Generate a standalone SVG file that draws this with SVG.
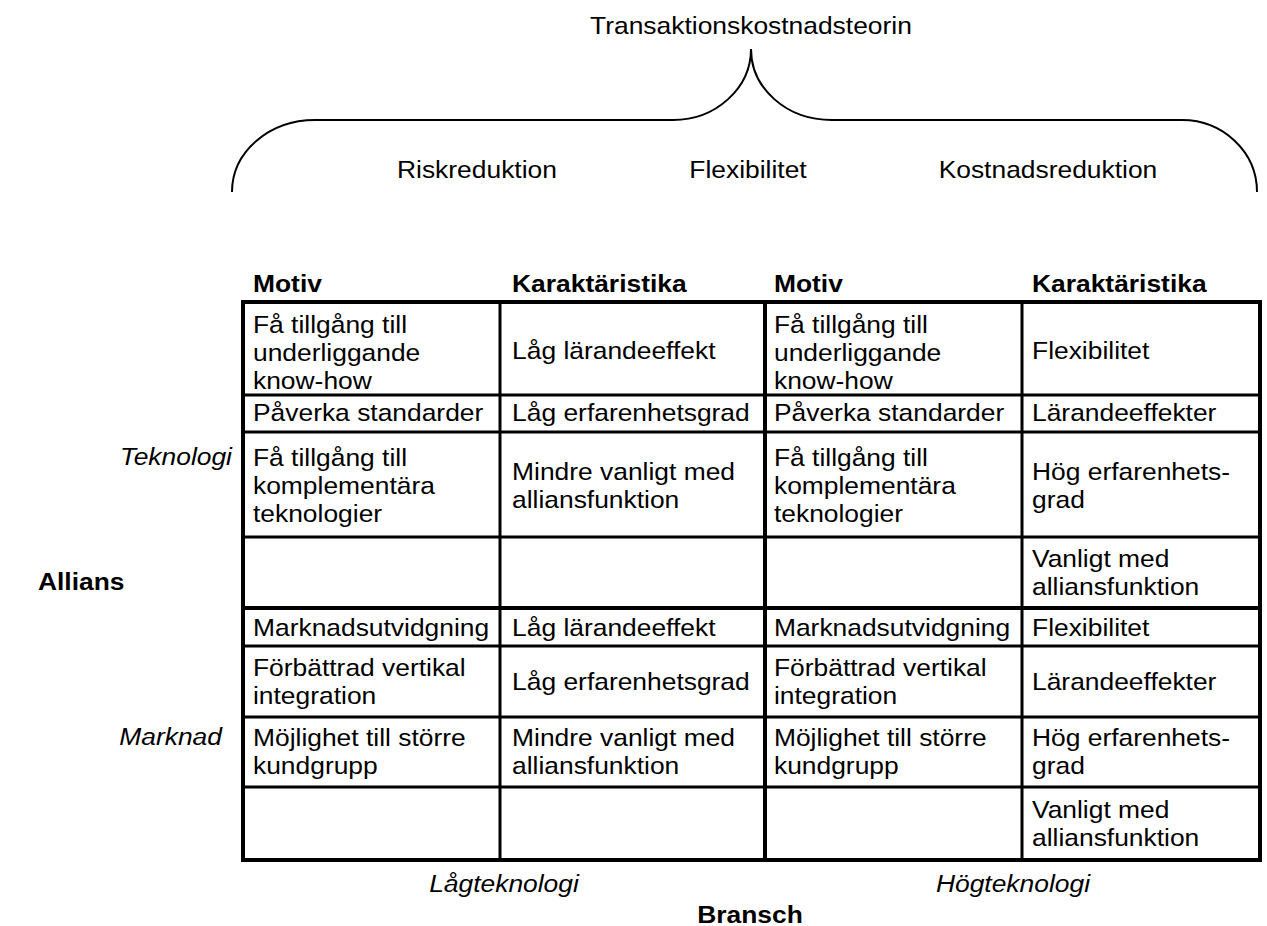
<svg xmlns="http://www.w3.org/2000/svg" width="1267" height="926" viewBox="0 0 1267 926">
<style>
text{font-family:"Liberation Sans",Arial,sans-serif;font-size:24px;fill:#000}
.b{font-weight:bold}
.i{font-style:italic}
.m{text-anchor:middle}
.e{text-anchor:end}
.ln{stroke:#000;fill:none}
.o{stroke-width:4}
.n{stroke-width:3}
</style>
<rect width="1267" height="926" fill="#fff"/>
<g id="brace">
<path class="ln" stroke-width="2" d="M232 192 C232 152 269 120 315 120 L673 120 C716 120 751 88 751 49 C751 88 786 120 832 120 L1182 120 C1223 120 1257 152 1257 192"/>
</g>
<g id="top-labels" transform="scale(1.1 1)">
<text class="m" x="682.7" y="34">Transaktionskostnadsteorin</text>
<text class="m" x="433.6" y="178">Riskreduktion</text>
<text class="m" x="680" y="178">Flexibilitet</text>
<text class="m" x="952.7" y="178">Kostnadsreduktion</text>
</g>
<g id="grid">
<line class="ln o" x1="241" y1="302" x2="1262" y2="302"/>
<line class="ln n" x1="241" y1="395" x2="1262" y2="395"/>
<line class="ln n" x1="241" y1="432" x2="1262" y2="432"/>
<line class="ln n" x1="241" y1="537" x2="1262" y2="537"/>
<line class="ln o" x1="241" y1="608" x2="1262" y2="608"/>
<line class="ln n" x1="241" y1="646" x2="1262" y2="646"/>
<line class="ln n" x1="241" y1="717" x2="1262" y2="717"/>
<line class="ln n" x1="241" y1="787" x2="1262" y2="787"/>
<line class="ln o" x1="241" y1="860" x2="1262" y2="860"/>
<line class="ln o" x1="243" y1="300" x2="243" y2="862"/>
<line class="ln n" x1="500" y1="300" x2="500" y2="862"/>
<line class="ln o" x1="765" y1="300" x2="765" y2="862"/>
<line class="ln n" x1="1022" y1="300" x2="1022" y2="862"/>
<line class="ln o" x1="1260" y1="300" x2="1260" y2="862"/>
</g>
<g id="axis-labels" transform="scale(1.1 1)">
<text class="i e" x="210.9" y="465">Teknologi</text>
<text class="b" x="34.5" y="590">Allians</text>
<text class="i e" x="201.8" y="745">Marknad</text>
<text class="i m" x="458.2" y="892">Lågteknologi</text>
<text class="i m" x="920.9" y="892">Högteknologi</text>
<text class="b m" x="681.8" y="923">Bransch</text>
</g>
<g id="header" transform="scale(1.1 1)">
<text class="b" x="230" y="292">Motiv</text>
<text class="b" x="465.5" y="292">Karaktäristika</text>
<text class="b" x="703.6" y="292">Motiv</text>
<text class="b" x="938.2" y="292">Karaktäristika</text>
</g>
<g id="low-tech" transform="scale(1.1 1)">
<text><tspan x="230" y="333">Få tillgång till</tspan><tspan x="230" y="361">underliggande</tspan><tspan x="230" y="389">know-how</tspan></text>
<text x="465.5" y="359">Låg lärandeeffekt</text>
<text x="230" y="421">Påverka standarder</text>
<text x="465.5" y="421">Låg erfarenhetsgrad</text>
<text><tspan x="230" y="466">Få tillgång till</tspan><tspan x="230" y="494">komplementära</tspan><tspan x="230" y="522">teknologier</tspan></text>
<text><tspan x="465.5" y="480">Mindre vanligt med</tspan><tspan x="465.5" y="508">alliansfunktion</tspan></text>
<text x="230" y="636">Marknadsutvidgning</text>
<text x="465.5" y="636">Låg lärandeeffekt</text>
<text><tspan x="230" y="676">Förbättrad vertikal</tspan><tspan x="230" y="704">integration</tspan></text>
<text x="465.5" y="690">Låg erfarenhetsgrad</text>
<text><tspan x="230" y="746">Möjlighet till större</tspan><tspan x="230" y="774">kundgrupp</tspan></text>
<text><tspan x="465.5" y="746">Mindre vanligt med</tspan><tspan x="465.5" y="774">alliansfunktion</tspan></text>
</g>
<g id="high-tech" transform="scale(1.1 1)">
<text><tspan x="703.6" y="333">Få tillgång till</tspan><tspan x="703.6" y="361">underliggande</tspan><tspan x="703.6" y="389">know-how</tspan></text>
<text x="938.2" y="359">Flexibilitet</text>
<text x="703.6" y="421">Påverka standarder</text>
<text x="938.2" y="421">Lärandeeffekter</text>
<text><tspan x="703.6" y="466">Få tillgång till</tspan><tspan x="703.6" y="494">komplementära</tspan><tspan x="703.6" y="522">teknologier</tspan></text>
<text><tspan x="938.2" y="480">Hög erfarenhets-</tspan><tspan x="938.2" y="508">grad</tspan></text>
<text><tspan x="938.2" y="567">Vanligt med</tspan><tspan x="938.2" y="595">alliansfunktion</tspan></text>
<text x="703.6" y="636">Marknadsutvidgning</text>
<text x="938.2" y="636">Flexibilitet</text>
<text><tspan x="703.6" y="676">Förbättrad vertikal</tspan><tspan x="703.6" y="704">integration</tspan></text>
<text x="938.2" y="690">Lärandeeffekter</text>
<text><tspan x="703.6" y="746">Möjlighet till större</tspan><tspan x="703.6" y="774">kundgrupp</tspan></text>
<text><tspan x="938.2" y="746">Hög erfarenhets-</tspan><tspan x="938.2" y="774">grad</tspan></text>
<text><tspan x="938.2" y="818">Vanligt med</tspan><tspan x="938.2" y="846">alliansfunktion</tspan></text>
</g>
</svg>
